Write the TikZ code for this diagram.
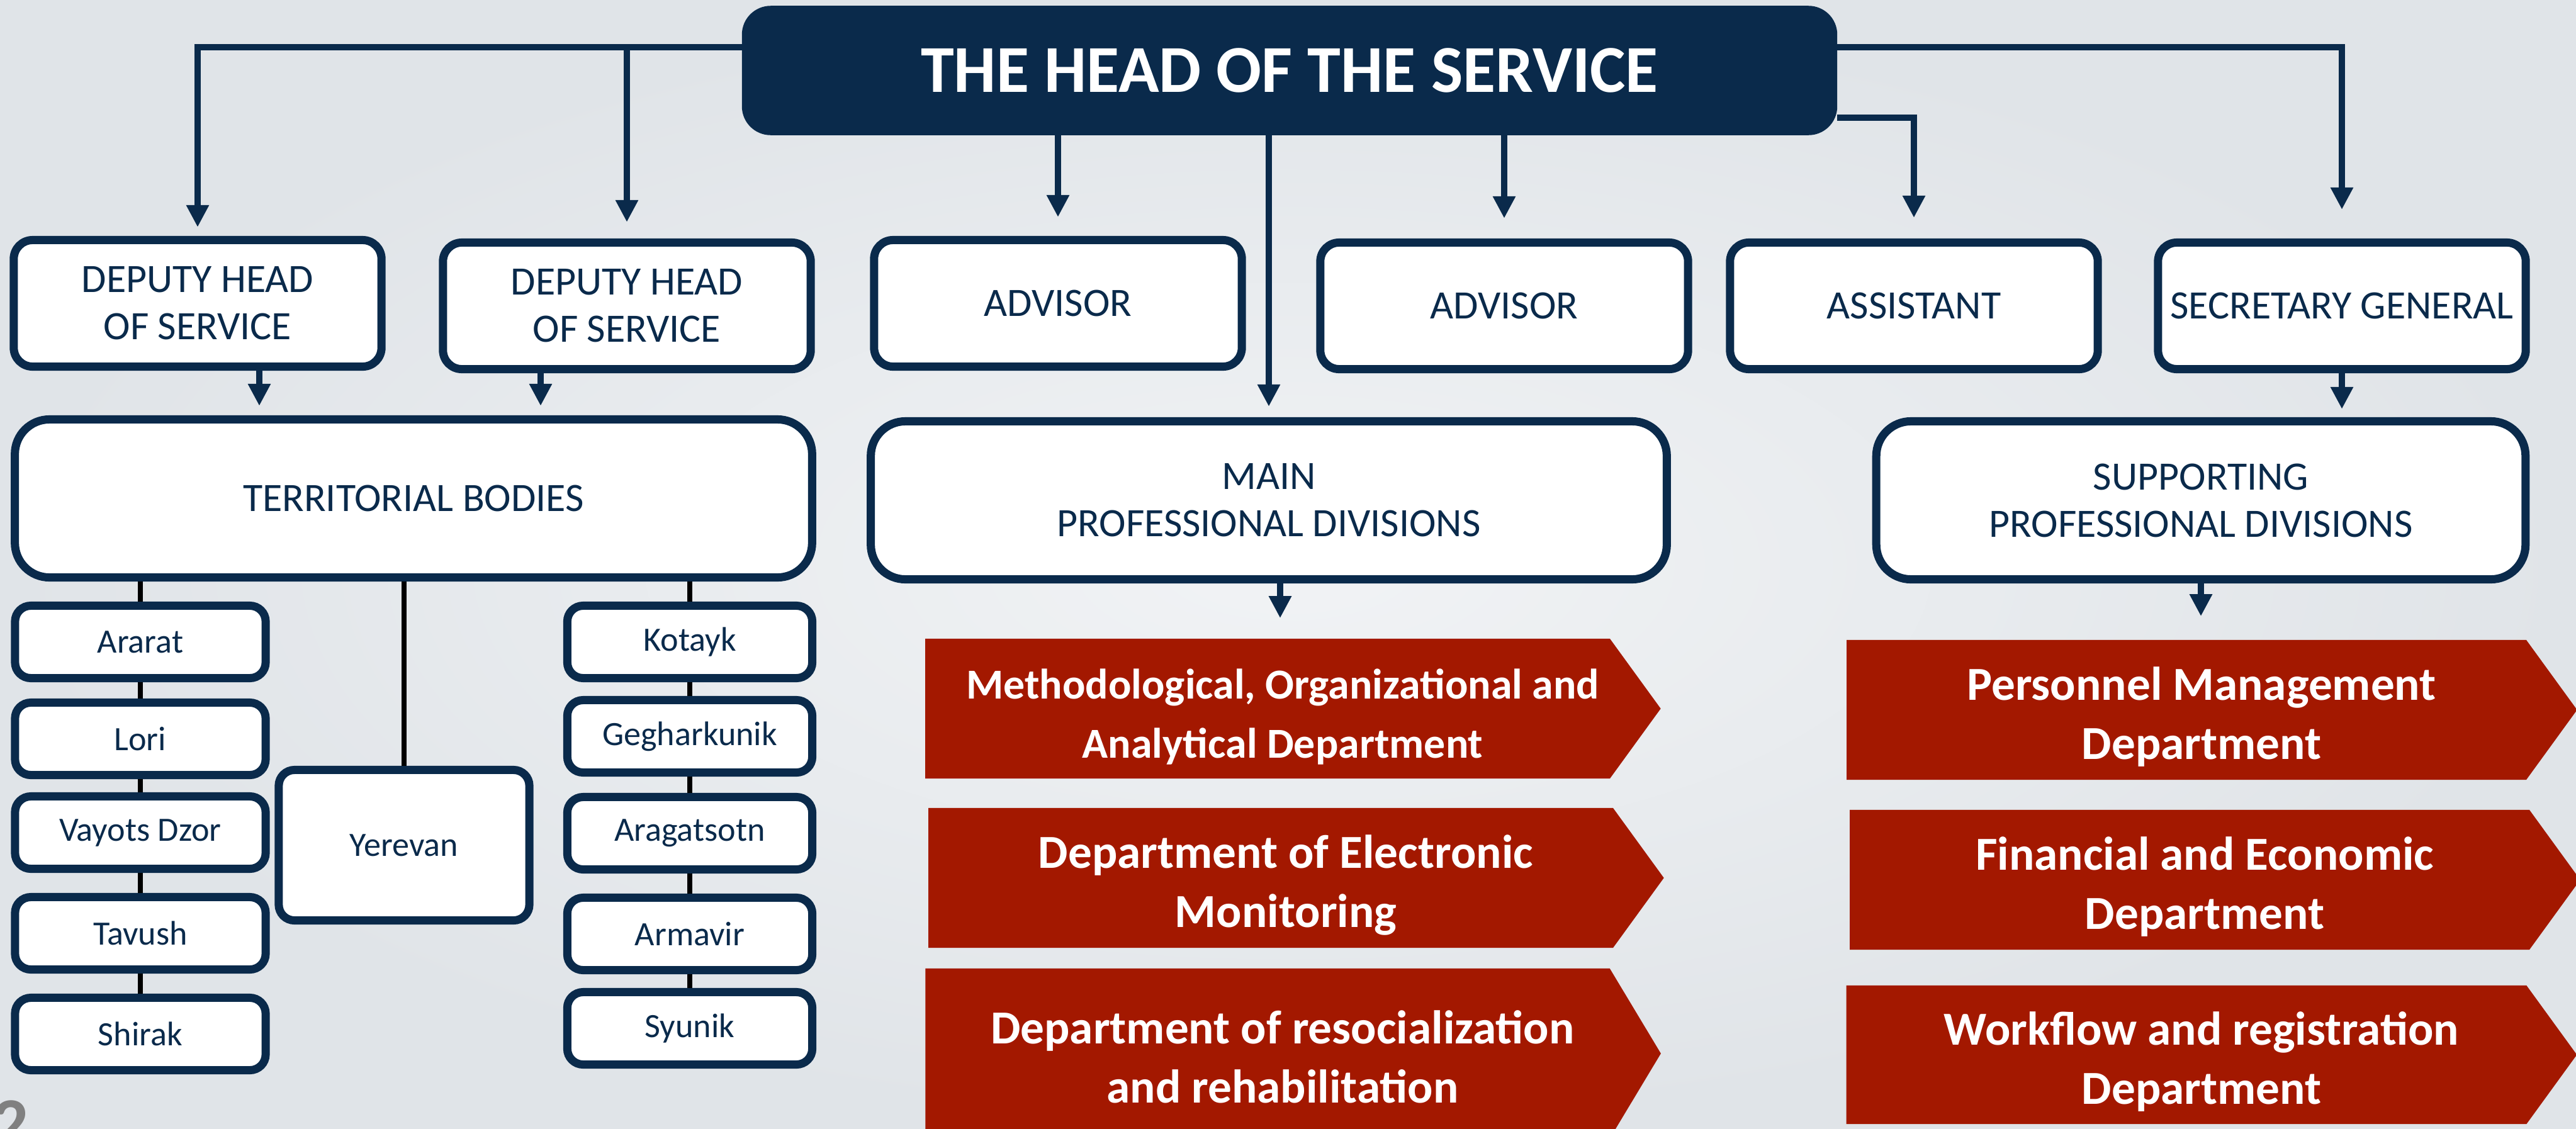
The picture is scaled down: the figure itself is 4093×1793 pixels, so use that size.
\documentclass[tikz,border=0pt]{standalone}
\usepackage{fontspec}
\setmainfont{Carlito}
\usetikzlibrary{arrows.meta,shapes.symbols}

\definecolor{navy}{RGB}{10,42,75}
\definecolor{deptred}{RGB}{163,24,0}
\definecolor{slidegray}{RGB}{128,128,128}
\definecolor{bginner}{RGB}{241,243,245}
\definecolor{bgouter}{RGB}{224,228,232}

% two-line label of a department, a little right of and below the box centre
\newcommand{\deptlabel}[2]{\hspace*{0.48cm}%
  \raisebox{-0.13cm}[\height][\depth]{\begin{tabular}{@{}c@{}}#1\\#2\end{tabular}}}

\tikzset{
  headbox/.style={rectangle, rounded corners=0.45cm, fill=navy, draw=navy,
    text=white, font=\bfseries\fontsize{30.3}{36}\selectfont,
    minimum width=17.38cm, minimum height=2.04cm},
  postbox/.style={rectangle, rounded corners=0.3cm, fill=white, draw=navy,
    line width=3.7pt, text=navy, align=center, inner sep=0pt,
    font=\fontsize{18.2}{21.3}\selectfont,
    minimum width=5.84cm, minimum height=2.01cm},
  groupbox/.style={postbox, rounded corners=0.55cm, minimum height=2.51cm},
  regionbox/.style={postbox, rounded corners=0.25cm,
    font=\fontsize{15.4}{18}\selectfont,
    minimum width=3.98cm, minimum height=1.15cm},
  deptbox/.style={signal, signal to=east, signal pointer angle=108,
    fill=deptred, text=white, inner sep=0pt,
    font=\bfseries\fontsize{21.4}{26.7}\selectfont,
    minimum width=11.68cm, minimum height=2.22cm},
  link/.style={draw=navy, line width=3.1pt,
    -{Triangle[length=0.35cm, width=0.34cm]}, shorten >=0.3cm},
  chain/.style={draw=black, line width=2.4pt},
}

\begin{document}
\begin{tikzpicture}[x=0.01cm, y=-0.01cm]

% page and background
\useasboundingbox (0,0) rectangle (4093,1793);
\clip (0,0) rectangle (4093,1793);
\shade[inner color=bginner, outer color=bgouter] (0,0) rectangle (4093,1793);

% bus lines and drop points
\coordinate (hbus)   at (0,75);
\coordinate (abus)   at (0,187);
\coordinate (tdrop1) at (412,0);
\coordinate (tdrop2) at (859,0);
\coordinate (mdrop)  at (2034,0);

% head
\node[headbox] (head) at (2049,112) {THE HEAD OF THE SERVICE};

% first level
\node[postbox] (dep1)   at (314,482)  {DEPUTY HEAD\\OF SERVICE};
\node[postbox] (dep2)   at (996,486)  {DEPUTY HEAD\\OF SERVICE};
\node[postbox] (adv1)   at (1681,482) {ADVISOR};
\node[postbox] (adv2)   at (2390,486) {ADVISOR};
\node[postbox] (asst)   at (3041,486) {ASSISTANT};
\node[postbox] (secgen) at (3721,486) {SECRETARY GENERAL};

% groups
\node[groupbox, minimum width=12.66cm] (terr)   at (657,792)  {TERRITORIAL BODIES};
\node[groupbox, minimum width=12.64cm] (mainpd) at (2016,795) {MAIN\\PROFESSIONAL DIVISIONS};
\node[groupbox, minimum width=10.31cm] (supppd) at (3497,795) {SUPPORTING\\PROFESSIONAL DIVISIONS};

% territorial bodies
\node[regionbox] (ararat) at (223,1020) {Ararat};
\node[regionbox] (lori)   at (223,1174) {Lori};
\node[regionbox] (vayots) at (223,1323) {Vayots Dzor};
\node[regionbox] (tavush) at (223,1483) {Tavush};
\node[regionbox] (shirak) at (223,1643) {Shirak};
\node[regionbox, minimum height=2.39cm] (yerevan) at (642,1343) {Yerevan};
\node[regionbox, minimum width=3.89cm] (kotayk)  at (1096,1020) {Kotayk};
\node[regionbox, minimum width=3.89cm] (geghark) at (1096,1170) {Gegharkunik};
\node[regionbox, minimum width=3.89cm] (aragats) at (1096,1324) {Aragatsotn};
\node[regionbox, minimum width=3.89cm] (armavir) at (1096,1484) {Armavir};
\node[regionbox, minimum width=3.89cm] (syunik)  at (1096,1634) {Syunik};

% departments
\node[deptbox, font=\bfseries\fontsize{19.3}{26.7}\selectfont] (mdep1) at (2014,1126)
  {\deptlabel{Methodological, Organizational and}{Analytical Department}};
\node[deptbox] (mdep2) at (2019,1395)
  {\deptlabel{Department of Electronic}{Monitoring}};
\node[deptbox, minimum height=2.70cm, signal pointer angle=118] (mdep3) at (2014,1674)
  {\deptlabel{Department of resocialization}{and rehabilitation}};
\node[deptbox, minimum width=11.60cm] (sdep1) at (3474,1128)
  {\deptlabel{Personnel Management}{Department}};
\node[deptbox, minimum width=11.60cm] (sdep2) at (3479,1398)
  {\deptlabel{Financial and Economic}{Department}};
\node[deptbox, minimum width=11.60cm, minimum height=2.20cm] (sdep3) at (3474,1676)
  {\deptlabel{Workflow and registration}{Department}};

% slide number
\node[anchor=north west, inner sep=0pt, text=slidegray,
  font=\bfseries\fontsize{32}{32}\selectfont] (slideno) at (-12,1748) {2};

% arrows from the head
\draw[link, shorten >=0.14cm] (head.west |- hbus) -| (dep1);
\draw[link, shorten >=0.26cm] (dep2 |- hbus) -- (dep2);
\draw[link, shorten >=0.3cm]  (head.south -| adv1) -- (adv1);
\draw[link, shorten >=0.32cm] (head.south -| adv2) -- (adv2);
\draw[link, shorten >=0.17cm] (head.south -| mainpd) -- (mainpd);
\draw[link, shorten >=0.33cm] (head.east |- abus) -| (asst);
\draw[link, shorten >=0.46cm] (head.east |- hbus) -| (secgen);

% arrows to the groups
\draw[link, shorten >=0.15cm] (dep1.south -| tdrop1) -- (terr.north -| tdrop1);
\draw[link, shorten >=0.15cm] (dep2.south -| tdrop2) -- (terr.north -| tdrop2);
\draw[link, shorten >=0.13cm] (secgen.south) -- (secgen.south |- supppd.north);

% arrows to the departments
\draw[link, shorten >=0.32cm] (mainpd.south -| mdrop) -- (mdep1.north -| mdrop);
\draw[link, shorten >=0.37cm] (supppd.south) -- (supppd.south |- sdep1.north);

% regional links
\draw[chain] (terr.south -| ararat) -- (ararat);
\draw[chain] (ararat) -- (lori);
\draw[chain] (lori) -- (vayots);
\draw[chain] (vayots) -- (tavush);
\draw[chain] (tavush) -- (shirak);
\draw[chain] (terr.south -| yerevan) -- (yerevan);
\draw[chain] (terr.south -| kotayk) -- (kotayk);
\draw[chain] (kotayk) -- (geghark);
\draw[chain] (geghark) -- (aragats);
\draw[chain] (aragats) -- (armavir);
\draw[chain] (armavir) -- (syunik);

\end{tikzpicture}
\end{document}
